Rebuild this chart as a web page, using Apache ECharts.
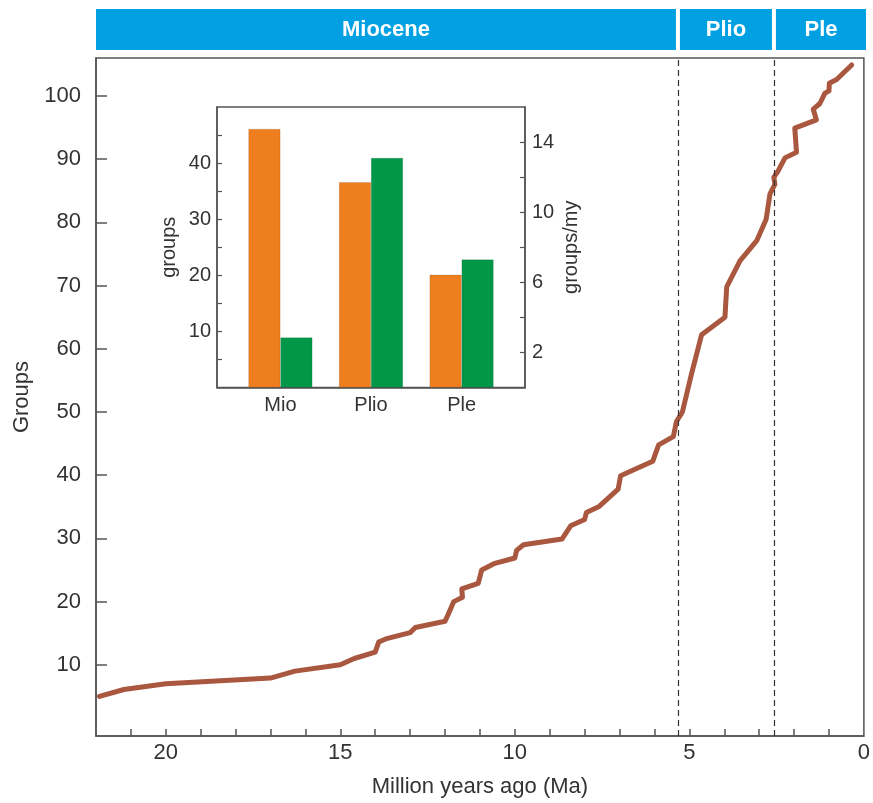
<!DOCTYPE html>
<html>
<head>
<meta charset="utf-8">
<script src="https://cdn.jsdelivr.net/npm/echarts@6/dist/echarts.min.js"></script>
<style>html,body{margin:0;padding:0;background:#fff;}#chart{width:873px;height:803px;}</style>
</head>
<body>
<div id="chart"></div>
<script>
// Main curve: age (Ma) and cumulative number of groups
const maAges = [21.9, 21.2, 20.0, 17.0, 16.3, 15.0, 14.6, 14.0, 13.9, 13.7, 13.0, 12.85, 12.0, 11.9, 11.75, 11.5, 11.52, 11.05, 10.95, 10.6, 10.0, 9.95, 9.75, 8.65, 8.4, 8.0, 7.95, 7.6, 7.04, 6.97, 6.05, 5.88, 5.46, 5.37, 5.2, 4.94, 4.65, 3.98, 3.93, 3.55, 3.07, 2.8, 2.69, 2.55, 2.58, 2.46, 2.26, 1.93, 1.98, 1.36, 1.45, 1.26, 1.12, 1.0, 0.99, 0.78, 0.35];
const groupCounts = [5.0, 6.1, 7.0, 7.9, 9.0, 10.0, 11.0, 12.0, 13.6, 14.1, 15.1, 15.9, 16.9, 18.1, 20.0, 20.7, 22.0, 22.9, 25.0, 26.0, 26.9, 28.1, 29.0, 29.9, 32.0, 33.0, 34.1, 35.0, 37.8, 39.9, 42.2, 44.8, 46.1, 48.5, 50.0, 56.0, 62.2, 65.0, 69.8, 73.9, 77.1, 80.5, 84.5, 86.0, 87.1, 88.1, 90.2, 91.1, 94.9, 96.2, 97.9, 98.8, 100.4, 100.8, 102.0, 102.6, 104.9];

// Epochs
const epochNames = ['Miocene', 'Plio', 'Ple'];
const epochStart = [22, 5.33, 2.58];
const epochEnd = [5.33, 2.58, 0];
const boundaries = [5.33, 2.58];

// Main axis ticks
const xTickLabels = [0, 5, 10, 15, 20];
const xMinorTicks = [1,2,3,4,5,6,7,8,9,10,11,12,13,14,15,16,17,18,19,20,21];
const yTickLabels = [10, 20, 30, 40, 50, 60, 70, 80, 90, 100];

// Inset
const insetCats = ['Mio', 'Plio', 'Ple'];
const insetGroups = [46.1, 36.6, 20.1];
const insetRates = [2.85, 13.1, 7.3];
const insetLeftTicks = [5, 10, 15, 20, 25, 30, 35, 40, 45];
const insetLeftLabels = [10, 20, 30, 40];
const insetRightTicks = [2, 4, 6, 8, 10, 12, 14];
const insetRightLabels = [2, 6, 10, 14];

const FONT = 'Liberation Sans, Arial, sans-serif';
const TXT = '#333';
const AX = '#555';

const chart = echarts.init(document.getElementById('chart'), null, {renderer: 'canvas'});

const option = {
  animation: false,
  textStyle: {fontFamily: FONT},
  grid: [
    {left: 96, right: 9, top: 58, bottom: 63, show: true, borderColor: AX, borderWidth: 1.5, backgroundColor: '#fff'},
    {left: 96, right: 9, top: 9, height: 41},
    {left: 217, top: 107, width: 308, height: 280.5, show: true, borderColor: AX, borderWidth: 1.5, backgroundColor: '#fff'}
  ],
  xAxis: [
    {
      type: 'value', gridIndex: 0, min: 0, max: 22, inverse: true,
      axisLine: {show: true, onZero: false, lineStyle: {color: AX, width: 1.5}},
      axisTick: {show: true, inside: true, length: 7, customValues: xMinorTicks, lineStyle: {color: AX, width: 1.5}},
      axisLabel: {customValues: xTickLabels, fontSize: 22, color: TXT, margin: 6, fontFamily: FONT},
      splitLine: {show: false},
      name: 'Million years ago (Ma)', nameLocation: 'middle', nameGap: 40,
      nameTextStyle: {fontSize: 22, color: TXT, fontFamily: FONT}
    },
    {type: 'value', gridIndex: 1, min: 0, max: 22, inverse: true, show: false},
    {
      type: 'value', gridIndex: 2, min: 0.3, max: 3.7,
      axisLine: {show: true, onZero: false, lineStyle: {color: AX, width: 1.5}},
      axisTick: {show: false},
      axisLabel: {customValues: [1, 2, 3], formatter: v => insetCats[Math.round(v) - 1], fontSize: 20, color: TXT, margin: 8, fontFamily: FONT},
      splitLine: {show: false}
    }
  ],
  yAxis: [
    {
      type: 'value', gridIndex: 0, min: -1.26, max: 106, position: 'left',
      axisLine: {show: true, onZero: false, lineStyle: {color: AX, width: 1.5}},
      axisTick: {show: true, inside: true, length: 11, customValues: yTickLabels, lineStyle: {color: AX, width: 1.5}},
      axisLabel: {customValues: yTickLabels, fontSize: 22, color: TXT, margin: 15, fontFamily: FONT},
      splitLine: {show: false},
      name: 'Groups', nameLocation: 'middle', nameRotate: 90, nameGap: 62,
      nameTextStyle: {fontSize: 22, color: TXT, fontFamily: FONT}
    },
    {type: 'value', gridIndex: 1, min: 0, max: 1, show: false},
    {
      type: 'value', gridIndex: 2, min: 0, max: 50, position: 'left',
      axisLine: {show: true, onZero: false, lineStyle: {color: AX, width: 1.5}},
      axisTick: {show: true, inside: true, length: 5, customValues: insetLeftTicks, lineStyle: {color: AX, width: 1.2}},
      axisLabel: {customValues: insetLeftLabels, fontSize: 20, color: TXT, margin: 6, fontFamily: FONT},
      splitLine: {show: false},
      name: 'groups', nameLocation: 'middle', nameRotate: 90, nameGap: 38,
      nameTextStyle: {fontSize: 20, color: TXT, fontFamily: FONT}
    },
    {
      type: 'value', gridIndex: 2, min: 0, max: 16, position: 'right',
      axisLine: {show: true, onZero: false, lineStyle: {color: AX, width: 1.5}},
      axisTick: {show: true, inside: true, length: 5, customValues: insetRightTicks, lineStyle: {color: AX, width: 1.2}},
      axisLabel: {customValues: insetRightLabels, fontSize: 20, color: TXT, margin: 7, fontFamily: FONT},
      splitLine: {show: false},
      name: 'groups/my', nameLocation: 'middle', nameRotate: 90, nameGap: 36,
      nameTextStyle: {fontSize: 20, color: TXT, fontFamily: FONT}
    }
  ],
  series: [
    {
      type: 'line', xAxisIndex: 0, yAxisIndex: 0,
      data: maAges.map((a, i) => [a, groupCounts[i]]),
      symbol: 'none', z: 3,
      lineStyle: {color: '#a9573f', width: 5, join: 'round', cap: 'round'},
      markLine: {
        silent: true, symbol: ['none', 'none'], label: {show: false},
        lineStyle: {color: '#333', width: 1.2, type: [6, 4]},
        data: boundaries.map(b => ({xAxis: b}))
      }
    },
    {
      type: 'custom', xAxisIndex: 1, yAxisIndex: 1,
      data: epochNames.map((n, i) => [epochStart[i], epochEnd[i], n]),
      renderItem: function (params, api) {
        const p0 = api.coord([api.value(0), 1]);
        const p1 = api.coord([api.value(1), 0]);
        const last = params.dataIndex === epochNames.length - 1;
        const first = params.dataIndex === 0;
        const x0 = Math.min(p0[0], p1[0]) + (first ? 0 : 2);
        const x1 = Math.max(p0[0], p1[0]) + (last ? 2 : -2);
        return {
          type: 'rect',
          shape: {x: x0, y: p0[1], width: x1 - x0, height: p1[1] - p0[1]},
          style: {fill: '#00a0e2'},
          textContent: {style: {text: epochNames[params.dataIndex], fill: '#fff', fontSize: 22, fontWeight: 'bold', fontFamily: FONT}},
          textConfig: {position: 'inside'}
        };
      }
    },
    {
      type: 'bar', xAxisIndex: 2, yAxisIndex: 2,
      data: insetGroups.map((v, i) => [i + 1, v]),
      barWidth: 32, barGap: '0%',
      itemStyle: {color: '#ef7f1e', borderColor: 'rgba(0,0,0,0.2)', borderWidth: 0.6}
    },
    {
      type: 'bar', xAxisIndex: 2, yAxisIndex: 3,
      data: insetRates.map((v, i) => [i + 1, v]),
      barWidth: 32, barGap: '0%',
      itemStyle: {color: '#009848', borderColor: 'rgba(0,0,0,0.2)', borderWidth: 0.6}
    }
  ]
};
chart.setOption(option);
</script>
</body>
</html>
